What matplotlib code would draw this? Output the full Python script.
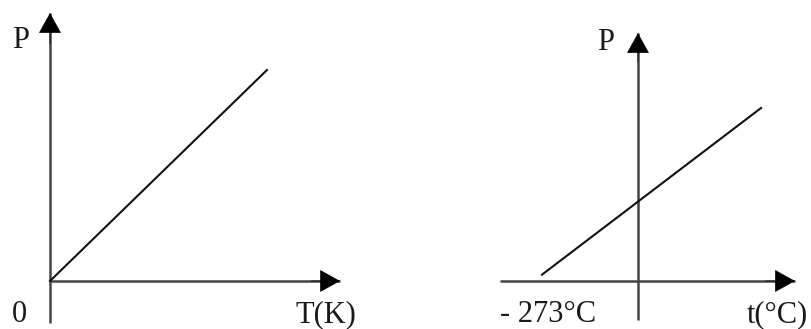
import matplotlib
matplotlib.use("Agg")
import matplotlib.pyplot as plt

plt.rcParams['font.family'] = ['Liberation Serif', 'DejaVu Serif']

# Data: left panel (P vs T in kelvin), right panel (P vs t in Celsius)
T_kelvin = [0, 300]
P_left = [0.0, 1.0]
t_celsius = [-273, 350]
P_right = [0.03, 0.82]

# Axis extents (data units)
left_xaxis = [0, 401]
left_yaxis = [-0.199, 1.27]
right_xaxis = [-392.5, 446.5]
right_yaxis = [-0.185, 1.175]

labels_left = {"P": "P", "origin": "0", "x": "T(K)"}
labels_right = {"P": "P", "zero": "- 273°C", "x": "t(°C)"}

W, H = 812, 329
fig = plt.figure(figsize=(W / 100, H / 100), dpi=100)
axL = fig.add_axes([0, 0, 0.5, 1])
axR = fig.add_axes([0.5, 0, 0.5, 1])

axis_color = '#444444'
head = '-|>,head_length=13.5,head_width=7.5'


def draw_axes(ax, xa, ya, x0, y0):
    ax.plot(xa, [y0, y0], color=axis_color, lw=1.8, solid_capstyle='butt')
    ax.plot([x0, x0], ya, color=axis_color, lw=1.8, solid_capstyle='butt')
    # arrowheads
    ax.annotate('', xy=(xa[1], y0), xytext=(xa[1] - (xa[1] - xa[0]) * 0.1, y0),
                arrowprops=dict(arrowstyle=head, mutation_scale=1, color='black',
                                lw=0.5, shrinkA=0, shrinkB=0))
    ax.annotate('', xy=(x0, ya[1]), xytext=(x0, ya[1] - (ya[1] - ya[0]) * 0.1),
                arrowprops=dict(arrowstyle=head, mutation_scale=1, color='black',
                                lw=0.5, shrinkA=0, shrinkB=0))


axL.set_xlim(-69.1, 492.2)
axL.set_ylim(-0.2275, 1.3318)
axR.set_xlim(-659.8, 494.9)
axR.set_ylim(-0.2275, 1.3318)

draw_axes(axL, left_xaxis, left_yaxis, 0, 0)
draw_axes(axR, right_xaxis, right_yaxis, 0, 0)

axL.plot(T_kelvin, P_left, color='#111111', lw=1.5)
axR.plot(t_celsius, P_right, color='#111111', lw=1.5)

for ax in (axL, axR):
    ax.axis('off')

fs = 22


def ptext(x, y, s, ha='center'):
    fig.text(x / W, 1 - y / H, s, ha=ha, va='baseline', fontsize=fs, color='#1a1a1a')


ptext(20.5, 48, labels_left["P"])
ptext(19.5, 322, labels_left["origin"])
ptext(326, 322, labels_left["x"])
ptext(606, 50, labels_right["P"])
ptext(548, 322, labels_right["zero"])
ptext(747, 322, labels_right["x"], ha='left')

fig.savefig('out.png', dpi=100)
